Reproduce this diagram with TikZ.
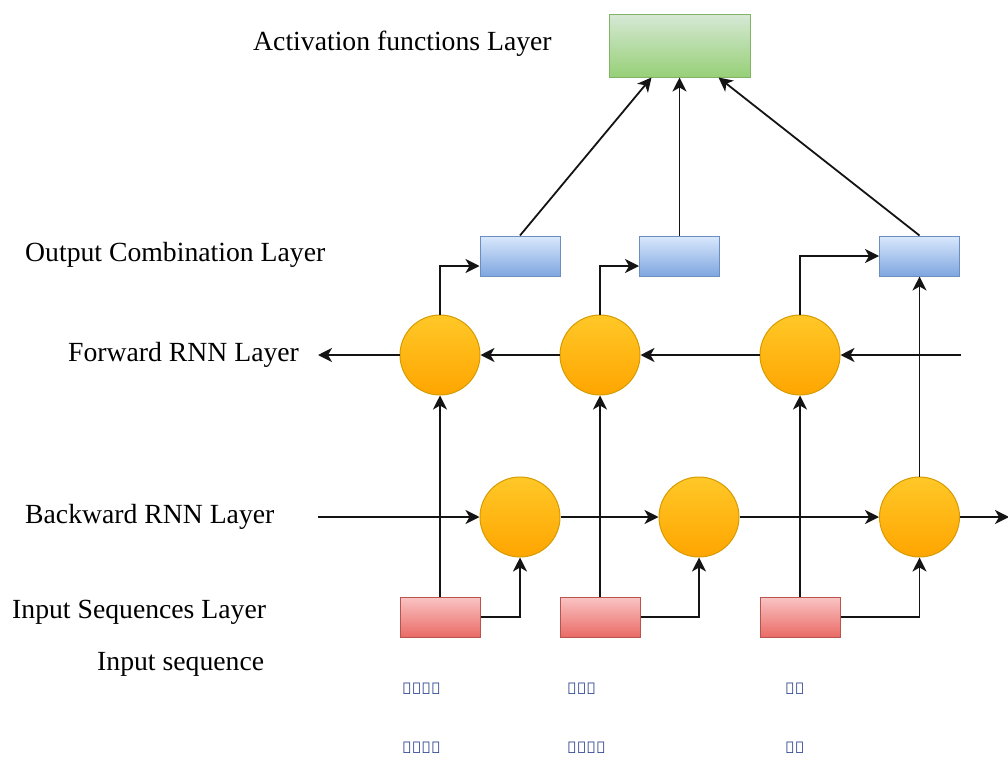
\documentclass[tikz,border=0pt]{standalone}
\usepackage{fontspec}
\setmainfont{Liberation Serif}
\newfontfamily\ethfont{Noto Sans}
\usetikzlibrary{arrows.meta}
\definecolor{ethblue}{RGB}{40,62,140}
\begin{document}
\begin{tikzpicture}[x=1pt,y=-1pt,
  lbl/.style={anchor=west,inner sep=0pt,font=\fontsize{27.7}{32}\selectfont},
  eth/.style={anchor=west,inner sep=0pt,text=ethblue,font=\ethfont\bfseries\fontsize{16}{20}\selectfont},
  arr/.style={draw={rgb,255:red,20;green,20;blue,20},line width=1.8pt,-{Stealth[length=14pt,width=14pt,inset=4pt]}},
  inbox/.style={rectangle,minimum width=80pt,minimum height=40pt,line width=1pt,draw={rgb,255:red,184;green,84;blue,80},top color={rgb,255:red,249;green,196;blue,196},bottom color={rgb,255:red,234;green,107;blue,102}},
  outbox/.style={rectangle,minimum width=80pt,minimum height=40pt,line width=1pt,draw={rgb,255:red,108;green,142;blue,191},top color={rgb,255:red,218;green,232;blue,252},bottom color={rgb,255:red,126;green,166;blue,224}},
  actbox/.style={rectangle,minimum width=141pt,minimum height=62pt,line width=1pt,draw={rgb,255:red,130;green,179;blue,102},top color={rgb,255:red,213;green,232;blue,212},bottom color={rgb,255:red,151;green,208;blue,119}},
  cell/.style={circle,minimum size=80pt,inner sep=0pt,line width=1pt,draw={rgb,255:red,215;green,155;blue,0},top color={rgb,255:red,255;green,200;blue,40},bottom color={rgb,255:red,255;green,165;blue,0}}]
\useasboundingbox (0,0) rectangle (1008,760);

% layer names
\node[lbl] (tAct) at (253,44) {Activation functions Layer};
\node[lbl] (tOut) at (25,255) {Output Combination Layer};
\node[lbl] (tFwd) at (68,355) {Forward RNN Layer};
\node[lbl] (tBwd) at (25,517) {Backward RNN Layer};
\node[lbl] (tIn) at (12,612) {Input Sequences Layer};
\node[lbl] (tSeq) at (97,664) {Input sequence};

% activation layer
\node[actbox] (act) at (679.5,46) {};

% output combination boxes
\node[outbox] (o1) at (520,256) {};
\node[outbox] (o2) at (679.5,256) {};
\node[outbox] (o3) at (919.5,256) {};

% forward cells
\node[cell] (f1) at (440,355) {};
\node[cell] (f2) at (600,355) {};
\node[cell] (f3) at (800,355) {};

% backward cells
\node[cell] (b1) at (520,517) {};
\node[cell] (b2) at (699,517) {};
\node[cell] (b3) at (919.5,517) {};

% input boxes
\node[inbox] (i1) at (440,617) {};
\node[inbox] (i2) at (600,617) {};
\node[inbox] (i3) at (800,617) {};

% free ends of the recurrent chains
\coordinate (fR) at (961,355);
\coordinate (fL) at (318,355);
\coordinate (bL) at (318,517);
\coordinate (bR) at (1009,517);

% forward chain (right to left)
\draw[arr] (fR) -- (f3);
\draw[arr] (f3) -- (f2);
\draw[arr] (f2) -- (f1);
\draw[arr] (f1) -- (fL);

% backward chain (left to right)
\draw[arr] (bL) -- (b1);
\draw[arr] (b1) -- (b2);
\draw[arr] (b2) -- (b3);
\draw[arr] (b3) -- (bR);

% inputs into both directions
\draw[arr] (i1.north) -- (f1.south);
\draw[arr] (i2.north) -- (f2.south);
\draw[arr] (i3.north) -- (f3.south);
\draw[arr] (i1.east) -| (b1.south);
\draw[arr] (i2.east) -| (b2.south);
\draw[arr] (i3.east) -| (b3.south);

% states into the combination layer
\draw[arr] (f1.north) |- ([yshift=-10pt]o1.west);
\draw[arr] (f2.north) |- ([yshift=-10pt]o2.west);
\draw[arr] (f3.north) |- (o3.west);
\draw[arr] (b3.north) -- (o3.south);

% combination into activation
\draw[arr] (o1.north) -- ([xshift=-28pt]act.south);
\draw[arr] (o2.north) -- (act.south);
\draw[arr] (o3.north) -- ([xshift=39pt]act.south);

% example words
\node[eth] (w1) at (402,689) {ተጨኤራ};
\node[eth] (w2) at (567,689) {ሐርም};
\node[eth] (w3) at (785,689) {ቶት};
\node[eth] (v1) at (402,748) {ተጨኤራ};
\node[eth] (v2) at (567,748) {ብሰረም};
\node[eth] (v3) at (785,748) {ቶት};
\end{tikzpicture}
\end{document}
